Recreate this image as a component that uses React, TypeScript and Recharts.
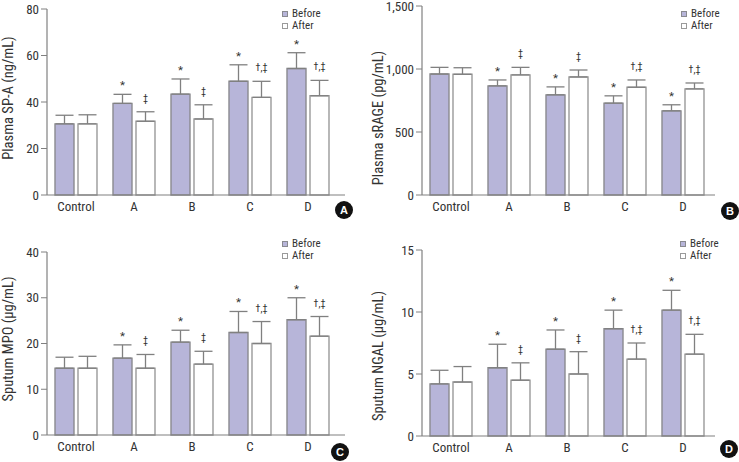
import React from "react";
import { BarChart, Bar, XAxis, YAxis, ErrorBar, LabelList, Legend } from "recharts";

const groups = ["Control", "A", "B", "C", "D"];

// Plasma SP-A (ng/mL)
const spaBefore = [30.6, 39.4, 43.4, 48.9, 54.4];
const spaBeforeSd = [3.7, 3.9, 6.5, 7.1, 6.8];
const spaAfter = [30.6, 31.7, 32.7, 42.0, 42.7];
const spaAfterSd = [3.9, 4.1, 6.1, 6.9, 6.6];

// Plasma sRAGE (pg/mL)
const srageBefore = [960, 866, 795, 729, 668];
const srageBeforeSd = [53, 47, 63, 58, 48];
const srageAfter = [958, 953, 937, 855, 842];
const srageAfterSd = [52, 60, 55, 58, 47];

// Sputum MPO (µg/mL)
const mpoBefore = [14.6, 16.8, 20.3, 22.4, 25.2];
const mpoBeforeSd = [2.4, 2.9, 2.6, 4.6, 4.8];
const mpoAfter = [14.6, 14.6, 15.5, 20.0, 21.6];
const mpoAfterSd = [2.6, 3.0, 2.8, 4.8, 4.3];

// Sputum NGAL (µg/mL)
const ngalBefore = [4.2, 5.5, 7.0, 8.65, 10.15];
const ngalBeforeSd = [1.1, 1.9, 1.55, 1.5, 1.6];
const ngalAfter = [4.35, 4.5, 5.0, 6.2, 6.6];
const ngalAfterSd = [1.25, 1.4, 1.8, 1.3, 1.6];

const beforeMarks = ["", "*", "*", "*", "*"];
const afterMarks = ["", "‡", "‡", "†,‡", "†,‡"];

const spaTicks = [0, 20, 40, 60, 80];
const srageTicks = [0, 500, 1000, 1500];
const mpoTicks = [0, 10, 20, 30, 40];
const ngalTicks = [0, 5, 10, 15];

const font = "'Liberation Sans Narrow', 'Roboto Condensed', 'DejaVu Sans Condensed', 'Liberation Sans', Arial, sans-serif";
const textColor = "#333";
const axisColor = "#808080";

const seriesOrder = ["before", "after"];
const seriesStyle: Record<string, { fill: string; stroke: string }> = {
  before: { fill: "#b7b5d9", stroke: "#8a8a8f" },
  after: { fill: "#ffffff", stroke: "#9a9a9a" },
};

const panels = [
  {
    letter: "A", x: 0, y: 0, w: 370, axisX: 47, top: 9, bottom: 195, right: 345,
    before: spaBefore, beforeSd: spaBeforeSd, after: spaAfter, afterSd: spaAfterSd,
    ticks: spaTicks, yLabel: "Plasma SP-A (ng/mL)", labelY: 98,
    legendX: 282, legendY: 8, cx: 344, cy: 210,
  },
  {
    letter: "B", x: 370, y: 0, w: 369, axisX: 52, top: 6, bottom: 195, right: 345,
    before: srageBefore, beforeSd: srageBeforeSd, after: srageAfter, afterSd: srageAfterSd,
    ticks: srageTicks, yLabel: "Plasma sRAGE (pg/mL)", labelY: 118,
    legendX: 311, legendY: 8, cx: 360, cy: 211,
  },
  {
    letter: "C", x: 0, y: 231, w: 370, axisX: 47, top: 21, bottom: 204, right: 345,
    before: mpoBefore, beforeSd: mpoBeforeSd, after: mpoAfter, afterSd: mpoAfterSd,
    ticks: mpoTicks, yLabel: "Sputum MPO (µg/mL)", labelY: 108,
    legendX: 282, legendY: 7, cx: 340, cy: 221,
  },
  {
    letter: "D", x: 370, y: 231, w: 369, axisX: 52, top: 19, bottom: 205, right: 345,
    before: ngalBefore, beforeSd: ngalBeforeSd, after: ngalAfter, afterSd: ngalAfterSd,
    ticks: ngalTicks, yLabel: "Sputum NGAL (µg/mL)", labelY: 125,
    legendX: 310, legendY: 7, cx: 359, cy: 218,
  },
];

const renderLegend = (props: any) => {
  const items = [...(props.payload || [])].sort(
    (a: any, b: any) => seriesOrder.indexOf(a.dataKey) - seriesOrder.indexOf(b.dataKey)
  );
  return (
    <div style={{ fontFamily: font, fontSize: 11, lineHeight: "12px", color: textColor }}>
      {items.map((e: any) => {
        const s = seriesStyle[e.dataKey] || seriesStyle.before;
        return (
          <div key={e.dataKey} style={{ display: "flex", alignItems: "center", height: 12, lineHeight: "12px" }}>
            <span
              style={{
                display: "inline-block",
                width: 6,
                height: 6,
                boxSizing: "border-box",
                background: s.fill,
                border: `1px solid ${s.stroke}`,
                marginRight: 4,
              }}
            />
            <span>{e.value}</span>
          </div>
        );
      })}
    </div>
  );
};

// significance mark above the upper end of the error bar
const markRenderer = (sd: number[], marks: string[]) => (props: any) => {
  const vb = props.viewBox || props;
  const { x, y, width, height } = vb;
  const i = props.index;
  const v = Number(props.value);
  if (!marks[i] || !v) return null;
  const pxPerUnit = height / v;
  const errTop = y - sd[i] * pxPerUnit;
  const isStar = marks[i] === "*";
  return (
    <text
      x={x + width / 2}
      y={isStar ? errTop - 5 : errTop - 10}
      textAnchor="middle"
      fontFamily={font}
      fontSize={isStar ? 11.5 : 10}
      fill={textColor}
    >
      {marks[i]}
    </text>
  );
};

const Panel = ({ p }: { p: (typeof panels)[number] }) => {
  const rows = groups.map((g, i) => ({
    group: g,
    before: p.before[i],
    after: p.after[i],
    beforeErr: [0, p.beforeSd[i]],
    afterErr: [0, p.afterSd[i]],
  }));
  const max = p.ticks[p.ticks.length - 1];
  const lx = 8;
  return (
    <div style={{ position: "absolute", left: p.x, top: p.y, width: p.w, height: 231 }}>
      <BarChart
        width={p.w}
        height={231}
        data={rows}
        margin={{ top: p.top, right: p.w - p.right, bottom: 231 - p.bottom - 30, left: 0 }}
        barSize={19}
        barGap={4}
      >
        <XAxis
          dataKey="group"
          height={30}
          tickLine={false}
          axisLine={{ stroke: axisColor, strokeWidth: 1.2 }}
          tick={{ fill: textColor, fontSize: 13, fontFamily: font }}
          tickMargin={1}
          padding={{ left: 0, right: p.right - p.axisX - 290 }}
        />
        <YAxis
          width={p.axisX}
          domain={[0, max]}
          ticks={p.ticks}
          interval={0}
          axisLine={{ stroke: axisColor, strokeWidth: 1.2 }}
          tickLine={{ stroke: axisColor }}
          tick={{ fill: textColor, fontSize: 13, fontFamily: font }}
          tickFormatter={(v: number) => v.toLocaleString("en-US")}
          label={{
            content: () => (
              <text
                x={lx}
                y={p.labelY}
                transform={`rotate(-90 ${lx} ${p.labelY})`}
                textAnchor="middle"
                dominantBaseline="central"
                fontFamily={font}
                fontSize={14.5}
                fill={textColor}
              >
                {p.yLabel}
              </text>
            ),
          }}
        />
        <Legend
          layout="vertical"
          align="center"
          verticalAlign="middle"
          content={renderLegend}
          wrapperStyle={{ left: p.legendX, top: p.legendY, width: "auto", lineHeight: "12px" }}
        />
        <Bar
          dataKey="before"
          name="Before"
          fill={seriesStyle.before.fill}
          stroke={seriesStyle.before.stroke}
          strokeWidth={1.4}
          isAnimationActive={false}
        >
          <ErrorBar dataKey="beforeErr" direction="y" width={9} stroke={axisColor} strokeWidth={1.3} />
          <LabelList dataKey="before" content={markRenderer(p.beforeSd, beforeMarks)} />
        </Bar>
        <Bar
          dataKey="after"
          name="After"
          fill={seriesStyle.after.fill}
          stroke={seriesStyle.after.stroke}
          strokeWidth={1.4}
          isAnimationActive={false}
        >
          <ErrorBar dataKey="afterErr" direction="y" width={9} stroke={axisColor} strokeWidth={1.3} />
          <LabelList dataKey="after" content={markRenderer(p.afterSd, afterMarks)} />
        </Bar>
      </BarChart>
      <div
        style={{
          position: "absolute",
          left: p.cx - 9,
          top: p.cy - 9,
          width: 18,
          height: 18,
          borderRadius: 9,
          background: "#111",
          color: "#fff",
          fontFamily: "'Liberation Sans', Arial, sans-serif",
          fontWeight: 700,
          fontSize: 11,
          lineHeight: "18px",
          textAlign: "center",
        }}
      >
        {p.letter}
      </div>
    </div>
  );
};

export default function App() {
  return (
    <div style={{ position: "absolute", left: 0, top: 0, width: 739, height: 462, background: "#fff" }}>
      {panels.map((p) => (
        <Panel key={p.letter} p={p} />
      ))}
    </div>
  );
}
